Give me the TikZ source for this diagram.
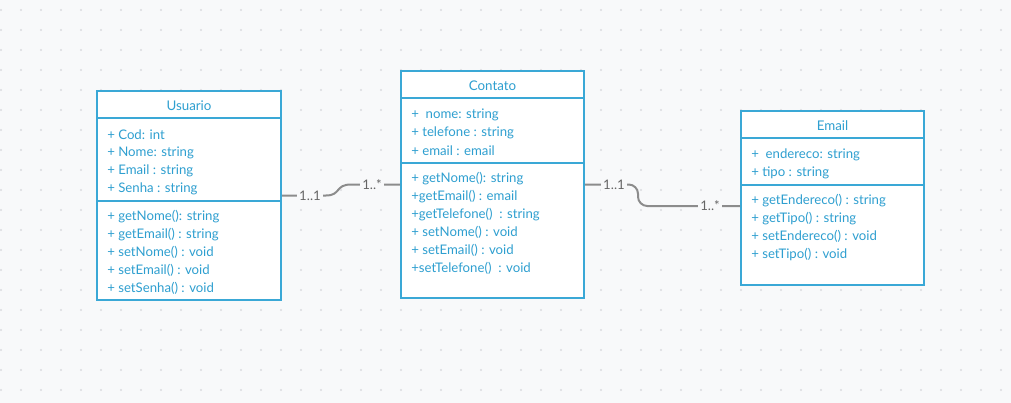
\documentclass[tikz,border=0pt]{standalone}
\usepackage{fontspec}
\setmainfont{Lato}
\definecolor{fond}{HTML}{F8F9FA}
\definecolor{grille}{HTML}{DADBDF}
\definecolor{bleu}{HTML}{3AA8D6}
\definecolor{texte}{HTML}{2E9FD0}
\definecolor{lien}{HTML}{8C8C8C}
\definecolor{card}{HTML}{666666}

\begin{document}
\begin{tikzpicture}[x=0.75pt,y=-0.75pt,
        classe/.style={draw=bleu, line width=1.5pt, fill=white, inner sep=0pt},%Boite de chaque classe
        trait/.style={draw=bleu, line width=1.5pt},%Separations des compartiments
        titre/.style={text=texte, yshift=-0.6pt, font=\fontsize{10pt}{11pt}\selectfont},
        membre/.style={anchor=west, inner sep=0pt, yshift=-1.1pt, text=texte, font=\fontsize{9.9pt}{11pt}\selectfont},
        assoc/.style={draw=lien, line width=1.5pt},%Liens entre les classes
        mult/.style={fill=fond, inner sep=2pt, text=card, font=\fontsize{9.9pt}{11pt}\selectfont}]
    \useasboundingbox (0,0) rectangle (1011,403);
    \fill[fond] (0,0) rectangle (1011,403);
    \foreach \x in {1,21,...,1001}
        \foreach \y in {10,30,...,390}
            \fill[grille] (\x,\y) circle (0.8pt);

    % Usuario
    \node[classe, minimum width=138pt, minimum height=156.75pt] (usuario) at (189,195.5) {};
    \node[titre] (t-usuario) at (189,105) {Usuario};
    \draw[trait] (97,118) -- (281,118);
    \draw[trait] (97,200.5) -- (281,200.5);
    \node[membre] (u1) at (107,133) {+ Cod: int};
    \node[membre] (u2) at (107,151) {+ Nome: string};
    \node[membre] (u3) at (107,169) {+ Email : string};
    \node[membre] (u4) at (107,187) {+ Senha : string};
    \node[membre] (u5) at (107,215) {+ getNome(): string};
    \node[membre] (u6) at (107,233) {+ getEmail() : string};
    \node[membre] (u7) at (107,251) {+ setNome() : void};
    \node[membre] (u8) at (107,269) {+ setEmail() : void};
    \node[membre] (u9) at (107,287) {+ setSenha() : void};

    % Contato
    \node[classe, minimum width=137.25pt, minimum height=170.25pt] (contato) at (492.5,184.5) {};
    \node[titre] (t-contato) at (492.5,85) {Contato};
    \draw[trait] (401,98.5) -- (584,98.5);
    \draw[trait] (401,162.5) -- (584,162.5);
    \node[membre] (c1) at (411,113) {+~~nome: string};
    \node[membre] (c2) at (411,131) {+ telefone : string};
    \node[membre] (c3) at (411,149) {+ email : email};
    \node[membre] (c4) at (411,177) {+ getNome(): string};
    \node[membre] (c5) at (411,195) {+getEmail() : email};
    \node[membre] (c6) at (411,213) {+getTelefone()~~: string};
    \node[membre] (c7) at (411,231) {+ setNome() : void};
    \node[membre] (c8) at (411,249) {+ setEmail() : void};
    \node[membre] (c9) at (411,267) {+setTelefone()~~: void};

    % Email
    \node[classe, minimum width=137.25pt, minimum height=130.5pt] (email) at (832.5,198) {};
    \node[titre] (t-email) at (832.5,125) {Email};
    \draw[trait] (741,138.5) -- (924,138.5);
    \draw[trait] (741,185) -- (924,185);
    \node[membre] (e1) at (751,153) {+~~endereco: string};
    \node[membre] (e2) at (751,171) {+ tipo : string};
    \node[membre] (e3) at (751,199) {+ getEndereco() : string};
    \node[membre] (e4) at (751,217) {+ getTipo() : string};
    \node[membre] (e5) at (751,235) {+ setEndereco() : void};
    \node[membre] (e6) at (751,253) {+ setTipo() : void};

    % liens
    \coordinate (e-in) at ([yshift=-6pt]email.west);
    \draw[assoc] (usuario.east) -- (326,195.5) .. controls (341,195.5) and (335,184.5) .. (351,184.5) -- (contato.west);
    \draw[assoc, rounded corners=7pt] (contato.east) -- (638,184.5) |- (e-in);
    \node[mult] (m1) at (310,195.5) {1..1};
    \node[mult] (m2) at (372,184.5) {1..*};
    \node[mult] (m3) at (614,184.5) {1..1};
    \node[mult] (m4) at (710,206) {1..*};
\end{tikzpicture}
\end{document}
